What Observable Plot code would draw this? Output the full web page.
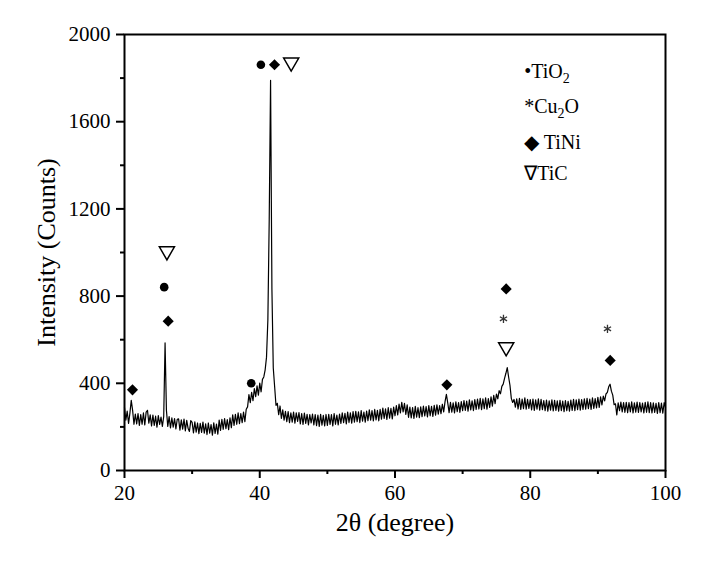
<!DOCTYPE html>
<html>
<head>
<meta charset="utf-8">
<script src="https://cdn.jsdelivr.net/npm/d3@7"></script>
<script src="https://cdn.jsdelivr.net/npm/@observablehq/plot@0.6"></script>
<style>
  html, body { margin: 0; padding: 0; background: #fff; }
  #chart svg { display: block; }
  #chart svg, #chart svg text { font-family: "Liberation Serif", "Times New Roman", Times, serif !important; }
</style>
</head>
<body>
<div id="chart"></div>
<script>
// ---- Data ----
const thetaStart = 20;   // first 2θ value (degree)
const thetaStep = 0.2;   // 2θ step (degree)
const counts = [
  289, 231, 272, 216, 263, 322, 276, 212, 259, 214,
  261, 207, 256, 212, 264, 209, 268, 276, 217, 255,
  204, 254, 207, 249, 199, 252, 212, 245, 202, 248,
  585, 276, 202, 247, 195, 241, 199, 238, 191, 235,
  237, 185, 232, 190, 236, 182, 230, 194, 179, 229,
  221, 172, 223, 176, 218, 169, 216, 175, 222, 171,
  214, 165, 218, 171, 211, 162, 219, 170, 213, 167,
  231, 184, 235, 189, 238, 192, 233, 187, 242, 196,
  255, 207, 258, 212, 264, 215, 261, 219, 268, 224,
  281, 292, 348, 311, 359, 320, 376, 339, 388, 346,
  401, 361, 418, 429, 462, 520, 690, 1150, 1790, 830,
  470, 385, 299, 308, 256, 296, 239, 278, 231, 271,
  224, 270, 219, 265, 222, 268, 217, 264, 225, 266,
  214, 261, 211, 263, 216, 258, 209, 256, 218, 259,
  209, 256, 206, 254, 202, 258, 208, 253, 205, 257,
  207, 258, 211, 256, 205, 261, 212, 254, 209, 259,
  216, 265, 219, 262, 214, 268, 220, 264, 217, 270,
  222, 271, 224, 269, 220, 275, 226, 268, 222, 273,
  229, 278, 231, 275, 227, 280, 232, 276, 228, 281,
  236, 286, 239, 283, 234, 288, 240, 285, 237, 291,
  251, 298, 255, 305, 264, 313, 269, 308, 257, 301,
  244, 291, 241, 289, 239, 294, 245, 288, 242, 292,
  247, 295, 250, 293, 246, 298, 251, 294, 248, 299,
  254, 301, 258, 298, 261, 304, 269, 316, 349, 310,
  265, 313, 268, 310, 264, 315, 270, 312, 267, 316,
  274, 321, 276, 318, 272, 324, 278, 320, 275, 325,
  280, 328, 282, 331, 279, 329, 284, 333, 281, 330,
  289, 338, 295, 345, 307, 351, 329, 366, 352, 386,
  396, 423, 446, 472, 429, 391, 331, 312, 326, 291,
  329, 282, 331, 280, 328, 284, 333, 281, 326, 285,
  325, 278, 328, 276, 324, 281, 329, 277, 326, 279,
  321, 274, 323, 272, 320, 277, 324, 273, 322, 276,
  319, 272, 322, 274, 318, 270, 321, 275, 317, 272,
  323, 276, 326, 274, 324, 279, 328, 277, 325, 280,
  329, 281, 331, 284, 328, 280, 333, 285, 330, 287,
  336, 289, 338, 301, 341, 319, 351, 358, 384, 396,
  364, 346, 302, 306, 255, 310, 274, 314, 269, 311,
  267, 313, 265, 311, 269, 315, 264, 310, 268, 314,
  266, 312, 269, 309, 264, 313, 267, 315, 265, 311,
  264, 310, 267, 308, 262, 312, 265, 309, 263, 311,
  289
];

// Peak markers (2θ, height of marker in counts)
const tio2Theta = [25.87, 38.74, 40.17];
const tio2Y     = [841, 400, 1861];
const tiniTheta = [21.18, 26.46, 42.18, 67.67, 76.44, 91.82];
const tiniY     = [370, 685, 1861, 393, 833, 505];
const ticTheta  = [26.27, 44.65, 76.44];
const ticY      = [1006, 1872, 566];
const cu2oTheta = [76.04, 91.42];
const cu2oY     = [696, 650];

// Legend
const legendLabels = ["•TiO_2", "*Cu_2O", "◆ TiNi", "∇TiC"];
const legendTheta = [79.1, 79.1, 79.1, 79.1];
const legendY = [1830, 1670, 1505, 1362];

// Axes
const xMajorTicks = [20, 40, 60, 80, 100];
const xMinorTicks = [30, 50, 70, 90];
const yMajorTicks = [0, 400, 800, 1200, 1600, 2000];
const yMinorTicks = [200, 600, 1000, 1400, 1800];
const xTitle = "2θ (degree)";
const yTitle = "Intensity (Counts)";

// ---- Build tables ----
const pattern = counts.map((c, i) => ({theta: thetaStart + i * thetaStep, counts: c}));
const pts = (xs, ys) => xs.map((x, i) => ({x, y: ys[i]}));
const tio2 = pts(tio2Theta, tio2Y);
const tini = pts(tiniTheta, tiniY);
const tic = pts(ticTheta, ticY);
const cu2o = pts(cu2oTheta, cu2oY);
const legend = legendLabels.map((t, i) => ({t, x: legendTheta[i], y: legendY[i]}));

const font = "Liberation Serif, Times New Roman, Times, serif";

const chart = Plot.plot({
  width: 706,
  height: 568,
  marginLeft: 124,
  marginRight: 41,
  marginTop: 34,
  marginBottom: 98,
  style: {fontFamily: font, background: "#fff", color: "#000"},
  x: {domain: [20, 100]},
  y: {domain: [0, 2000]},
  marks: [
    Plot.axisX(xMajorTicks, {tickSize: 8, tickPadding: 7, fontSize: 21, fontFamily: font, strokeWidth: 2, tickFormat: "d", label: null}),
    Plot.axisX(xMinorTicks, {tickSize: 4, strokeWidth: 2, tickFormat: () => "", label: null}),
    Plot.axisY(yMajorTicks, {tickSize: 8, tickPadding: 6, fontSize: 21, fontFamily: font, strokeWidth: 2, tickFormat: "d", label: null}),
    Plot.axisY(yMinorTicks, {tickSize: 4, strokeWidth: 2, tickFormat: () => "", label: null}),
    Plot.line(pattern, {x: "theta", y: "counts", stroke: "#000", strokeWidth: 1.2}),
    Plot.dot(tio2, {x: "x", y: "y", symbol: "circle", fill: "#000", r: 4.3}),
    Plot.dot(tini, {x: "x", y: "y", symbol: "diamond2", fill: "#000", r: 5}),
    Plot.dot(tic, {x: "x", y: "y", symbol: "triangle", fill: "none", stroke: "#000", strokeWidth: 1.5, r: 5.6, rotate: 180}),
    Plot.dot(cu2o, {x: "x", y: "y", symbol: "asterisk", stroke: "#333", strokeWidth: 1.3, r: 3.9}),
    Plot.text(legend, {x: "x", y: "y", text: "t", textAnchor: "start", fontSize: 20, fontFamily: font, fill: "#000"}),
    Plot.text([xTitle], {frameAnchor: "bottom", lineAnchor: "top", dy: 42, fontSize: 26, fontFamily: font, fill: "#000"}),
    Plot.text([yTitle], {frameAnchor: "left", rotate: -90, textAnchor: "middle", lineAnchor: "middle", dx: -78, fontSize: 26, fontFamily: font, fill: "#000"}),
    Plot.frame({stroke: "#000", strokeWidth: 2})
  ]
});

// subscripts in legend labels (written as "_2")
d3.select(chart).selectAll("text").each(function () {
  const s = this.textContent;
  if (!s || s.indexOf("_") < 0) return;
  const el = d3.select(this);
  el.text(null);
  const parts = s.split(/_(\d)/);
  parts.forEach((p, i) => {
    if (i % 2 === 1) {
      el.append("tspan").attr("dy", 5).attr("font-size", 14).text(p);
    } else if (p) {
      const t = el.append("tspan").text(p);
      if (i > 0) t.attr("dy", -5);
    }
  });
});

document.getElementById("chart").appendChild(chart);
</script>
</body>
</html>
